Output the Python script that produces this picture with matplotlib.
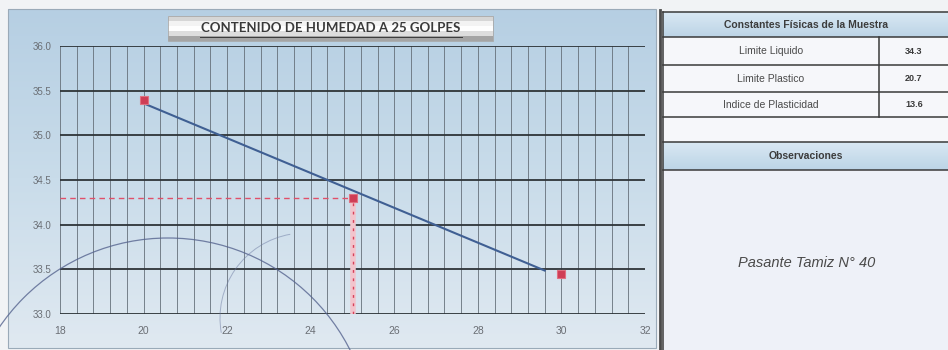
import numpy as np
import matplotlib
matplotlib.use("Agg")
from matplotlib import pyplot as plt
from matplotlib.patches import Rectangle, Arc

# datos del ensayo
golpes = [20, 25, 30]
humedad = [35.4, 34.3, 33.45]
golpes_ref = 25
x_ticks = [18, 20, 22, 24, 26, 28, 30, 32]
y_ticks = [33.0, 33.5, 34.0, 34.5, 35.0, 35.5, 36.0]

constantes = ["Limite Liquido", "Limite Plastico", "Indice de Plasticidad"]
valores = ["34.3", "20.7", "13.6"]
limite_liquido = 34.3
observacion = "Pasante Tamiz N\u00b0 40"

W, H = 948, 350
fig = plt.figure(figsize=(W / 100, H / 100), dpi=100)
fig.patch.set_facecolor("#f1f3f5")

# fondo en pixeles
bg = fig.add_axes([0, 0, 1, 1], zorder=0)
bg.set_xlim(0, W)
bg.set_ylim(H, 0)
bg.axis("off")

grad = np.linspace(0, 1, 256).reshape(-1, 1)
cmap = matplotlib.colors.LinearSegmentedColormap.from_list("fondo", ["#b6cfe3", "#c9dcea", "#e0e9f1"])
bg.imshow(grad, cmap=cmap, extent=[8, 656, 348, 9], aspect="auto", zorder=1)
bg.add_patch(Rectangle((8, 9), 648, 339, fill=False, ec="#9aaab8", lw=0.8, zorder=2))

# caja del titulo
tgrad = np.array([0.0, 0.2, 0.5, 0.8, 1.0]).reshape(-1, 1)
tcmap = matplotlib.colors.LinearSegmentedColormap.from_list("tit", ["#d6d6d6", "#fbfbfb", "#ffffff", "#ececec", "#a4a4a4"])
bg.imshow(tgrad, cmap=tcmap, extent=[168, 493, 41, 16], aspect="auto", zorder=3)
bg.add_patch(Rectangle((168, 16), 325, 25, fill=False, ec="#a8a8a8", lw=0.6, zorder=4))
bg.text(331, 28, "CONTENIDO DE HUMEDAD A 25 GOLPES", ha="center", va="center",
        fontsize=9.5, fontweight="bold", color="#3a3a3a", family="Lato", zorder=5)
bg.plot([200, 462], [36.5, 36.5], color="#3a3a3a", lw=0.7, zorder=5)

# panel derecho
bg.add_patch(Rectangle((663, 12), 285, 338, fc="#f6f7fa", ec="none", zorder=1))
bg.plot([660, 660], [10, 350], color="#4a4a4a", lw=2, zorder=3)
hgrad = np.linspace(0, 1, 64).reshape(-1, 1)
hcmap = matplotlib.colors.LinearSegmentedColormap.from_list("enc", ["#d9e8f3", "#bcd4e6"])
for y0, y1 in [(12, 37), (142, 170)]:
    bg.imshow(hgrad, cmap=hcmap, extent=[663, 948, y1, y0], aspect="auto", zorder=2)
bg.add_patch(Rectangle((663, 170), 285, 180, fc="#eef1f8", ec="none", zorder=2))
for y in [12, 37, 65, 92, 117, 142, 170]:
    bg.plot([663, 948], [y, y], color="#3a3a3a", lw=1.1, zorder=3)
bg.plot([663, 663], [12, 350], color="#3a3a3a", lw=1.1, zorder=3)
bg.plot([879, 879], [37, 117], color="#3a3a3a", lw=1.1, zorder=3)

bg.text(806, 24.5, "Constantes F\u00edsicas de la Muestra", ha="center", va="center",
        fontsize=7.5, fontweight="bold", color="#3c3c3c", family="Liberation Sans", zorder=4)
filas_y = [51, 78.5, 104.5]
for nombre, val, yy in zip(constantes, valores, filas_y):
    bg.text(771, yy, nombre, ha="center", va="center", fontsize=7.5,
            color="#4a4a4a", family="Liberation Sans", zorder=4)
    bg.text(914, yy, val, ha="center", va="center", fontsize=6.5, fontweight="bold",
            color="#3a3a3a", family="Liberation Sans", zorder=4)
bg.text(806, 156, "Observaciones", ha="center", va="center", fontsize=7.5,
        fontweight="bold", color="#3c3c3c", family="Liberation Sans", zorder=4)
bg.text(807, 263, observacion, ha="center", va="center", fontsize=10.5, style="italic",
        color="#4a4a4a", family="Liberation Sans", zorder=4)

# grafico principal
ax = fig.add_axes([60 / W, 1 - 314 / H, 585 / W, 268 / H], zorder=1)
ax.patch.set_alpha(0)
ax.set_xlim(18, 32)
ax.set_ylim(33, 36)
for xv in np.arange(18, 32.01, 0.4):
    ax.axvline(xv, color="#66707a", lw=0.6, zorder=1)
for yv in y_ticks:
    ax.axhline(yv, color="#2e3438", lw=1.3, zorder=1)
ax.set_xticks(x_ticks)
ax.set_xticklabels([str(t) for t in x_ticks])
ax.set_yticks(y_ticks)
ax.set_yticklabels(["%.1f" % t for t in y_ticks])
ax.tick_params(length=0, labelsize=7, colors="#6a6e74", pad=6)
ax.tick_params(axis="x", labelsize=7.5, pad=9)
for lbl in ax.get_xticklabels() + ax.get_yticklabels():
    lbl.set_family("Liberation Sans")
for s in ax.spines.values():
    s.set_visible(False)

# linea de tendencia
coef = np.polyfit(golpes, humedad, 1)
xt = np.array([golpes[0], golpes[-1] - 0.4])
ax.plot(xt, np.polyval(coef, xt), color="#3f5f93", lw=1.5, zorder=3)
ax.plot(golpes, humedad, "s", color="#cf3d55", ms=6, mec="#e07080", mew=0.8, zorder=4)

# lineas de lectura a 25 golpes
ax.plot([18, golpes_ref], [limite_liquido, limite_liquido], color="#e0506a", lw=1, ls=(0, (4, 3)), zorder=2)
ax.plot([golpes_ref, golpes_ref], [33, limite_liquido], color="#f2c4cc", lw=4, zorder=2)
ax.plot([golpes_ref, golpes_ref], [33, limite_liquido], color="#d8405a", lw=1, ls=(0, (2, 4)), zorder=2)

# arcos del sello
ov = fig.add_axes([0, 0, 1, 1], zorder=2)
ov.set_xlim(0, W)
ov.set_ylim(H, 0)
ov.axis("off")
ov.add_patch(Arc((168, 442), 408, 408, theta1=180, theta2=360, color="#56648f", lw=0.9, alpha=0.8))
ov.add_patch(Arc((305, 318), 170, 170, theta1=170, theta2=260, color="#6a78a0", lw=0.7, alpha=0.5))

fig.savefig("out.png", dpi=100)
